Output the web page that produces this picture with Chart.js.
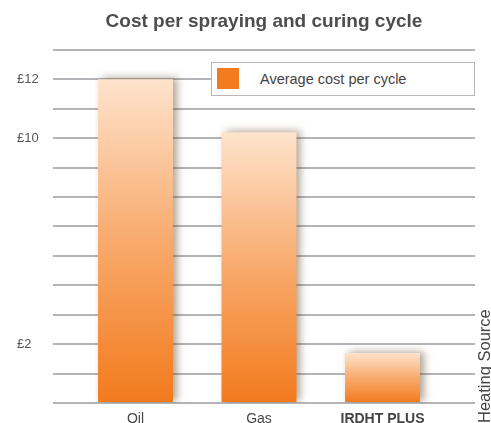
<!DOCTYPE html>
<html>
<head>
<meta charset="utf-8">
<script src="https://cdn.jsdelivr.net/npm/chart.js@4/dist/chart.umd.min.js"></script>
<style>
    html, body { margin: 0; padding: 0; background: #fff; overflow: hidden; }
    #wrap { position: relative; width: 491px; height: 423px; }
    #legend_box {
        position: absolute; left: 211px; top: 62px; width: 262px; height: 32px;
        border: 1px solid #b8b8b8; background: #fff;
        font-family: 'Liberation Sans', Arial, sans-serif; font-size: 14.5px; color: #444;
    }
    #legend_box .swatch { position: absolute; left: 5px; top: 5px; width: 22px; height: 21px; background: #f47b20; }
    #legend_box .txt { position: absolute; left: 48px; top: 8px; white-space: nowrap; }
    #axis_name {
        position: absolute; left: 0; top: 0; white-space: nowrap;
        font-family: 'Liberation Sans', Arial, sans-serif; font-size: 16.5px; line-height: 16px; color: #444;
        transform-origin: 0 0; transform: translate(476px, 423px) rotate(-90deg);
    }
</style>
</head>
<body>
<div id="wrap">
    <canvas id="c_cost" width="491" height="423"></canvas>
    <div id="legend_box"><div class="swatch"></div><div class="txt">Average cost per cycle</div></div>
    <div id="axis_name">Heating Source</div>
</div>
<script>
// data (values in grid steps, one gridline = one step)
const categories = ['Oil', 'Gas', 'IRDHT PLUS']
const costValues = [11, 9.2, 1.7]
const yTickLabels = ['', '', '£2', '', '', '', '', '', '', '£10', '', '£12', '']
const seriesName = 'Average cost per cycle'
const boldCategory = 'IRDHT PLUS'

const fontFamily = "'Liberation Sans', Arial, sans-serif"

// vertical gradient per bar, light at the top, orange at the base
let barGradient = function (c) {
    const chart = c.chart
    if (!chart.chartArea || !c.raw) { return '#f47b20' }
    const y = chart.scales.y
    const top = y.getPixelForValue(c.raw.y)
    const base = y.getPixelForValue(0)
    const g = chart.ctx.createLinearGradient(0, top, 0, base)
    g.addColorStop(0, '#fee3cc')
    g.addColorStop(0.5, '#f8aa6c')
    g.addColorStop(1, '#f37a1d')
    return g
}

// soft shadow behind the bars
const barShadow = {
    id: 'barShadow',
    beforeDatasetsDraw(chart) {
        const ctx = chart.ctx
        ctx.save()
        ctx.shadowColor = 'rgba(95, 70, 40, 0.5)'
        ctx.shadowBlur = 8
        ctx.shadowOffsetX = 4
        ctx.shadowOffsetY = -1
    },
    afterDatasetsDraw(chart) {
        chart.ctx.restore()
    }
}

var ctx = document.getElementById('c_cost').getContext('2d')
new Chart(ctx, {
    type: 'bar',
    data: {
        datasets: [{
            label: seriesName,
            data: categories.map((name, i) => ({ x: i, y: costValues[i] })),
            backgroundColor: barGradient,
            borderWidth: 0,
            barPercentage: 0.607,
            categoryPercentage: 1
        }]
    },
    options: {
        responsive: false,
        animation: false,
        layout: { padding: { left: 17, right: 16, top: 0, bottom: 0 } },
        plugins: {
            legend: { display: false },
            tooltip: { enabled: false },
            title: {
                display: true,
                fullSize: false,
                text: 'Cost per spraying and curing cycle',
                color: '#4d4d4d',
                font: { family: fontFamily, size: 19, weight: 'bold' },
                padding: { top: 10, bottom: 17 }
            }
        },
        scales: {
            x: {
                type: 'linear',
                offset: false,
                min: -0.668,
                max: 2.749,
                afterBuildTicks: (scale) => {
                    scale.ticks = categories.map((name, i) => ({ value: i }))
                },
                afterFit: (scale) => { scale.height = 20 },
                grid: { display: false, drawTicks: false },
                border: { display: false },
                ticks: {
                    padding: 8,
                    color: '#444',
                    font: (c) => ({
                        family: fontFamily,
                        size: 14,
                        weight: categories[c.index] === boldCategory ? 'bold' : 'normal'
                    }),
                    callback: (v) => categories[v]
                }
            },
            y: {
                min: 0,
                max: 12,
                afterFit: (scale) => { scale.width = 36 },
                grid: { color: '#b3b3b8', lineWidth: 2, drawTicks: false },
                border: { display: false },
                ticks: {
                    stepSize: 1,
                    autoSkip: false,
                    crossAlign: 'far',
                    padding: 4,
                    color: '#555',
                    font: { family: fontFamily, size: 13 },
                    callback: (v, i) => yTickLabels[i]
                }
            }
        }
    },
    plugins: [barShadow]
})
</script>
</body>
</html>
